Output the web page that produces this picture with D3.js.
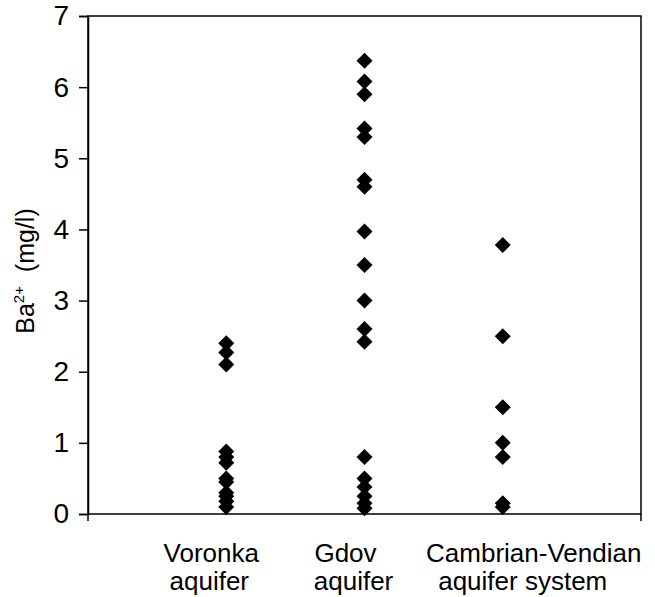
<!DOCTYPE html>
<html>
<head>
<meta charset="utf-8">
<script src="https://cdn.jsdelivr.net/npm/d3@7"></script>
<style>
  body { margin: 0; background: #fff; }
  text { font-family: "Liberation Sans", Arial, sans-serif; fill: #000; }
</style>
</head>
<body>
<svg id="chart" width="655" height="597"></svg>
<script>
// groups on the category axis (x = 1, 2, 3 on a 0..4 scale)
var groups = ["Voronka aquifer", "Gdov aquifer", "Cambrian-Vendian aquifer system"];
var groupLines = [["Voronka", "aquifer"], ["Gdov", "aquifer"], ["Cambrian-Vendian", "aquifer system"]];

// Ba2+ concentrations (mg/l)
var voronka = [2.4, 2.27, 2.1, 0.88, 0.8, 0.72, 0.5, 0.45, 0.3, 0.25, 0.18, 0.1];
var gdov = [6.37, 6.08, 5.9, 5.42, 5.3, 4.7, 4.6, 3.97, 3.5, 3.0, 2.6, 2.42, 0.8, 0.5, 0.38, 0.25, 0.15, 0.08];
var cambrian = [3.78, 2.5, 1.5, 1.0, 0.8, 0.15, 0.1];

var yTicks = [0, 1, 2, 3, 4, 5, 6, 7];

var margin = {left: 88, top: 16, right: 14, bottom: 83};
var W = 655, H = 597;
var FONT = "'Liberation Sans', Arial, sans-serif";

var svg = d3.select("#chart");

var x = d3.scaleLinear().domain([0, 4]).range([margin.left, W - margin.right]);
var y = d3.scaleLinear().domain([0, 7]).range([H - margin.bottom, margin.top]);

// frame
svg.append("rect")
  .attr("x", x(0)).attr("y", y(7))
  .attr("width", x(4) - x(0)).attr("height", y(0) - y(7))
  .attr("fill", "none").attr("stroke", "#000").attr("stroke-width", 1.5);

// y axis
var yAxis = d3.axisLeft(y).tickValues(yTicks).tickSize(9).tickPadding(10).tickFormat(d3.format("d"));
var gy = svg.append("g").attr("transform", "translate(" + x(0) + ",0)").call(yAxis);
gy.select(".domain").attr("stroke-width", 1.5);
gy.selectAll(".tick line").attr("stroke-width", 1.5);
gy.selectAll("text").style("font-size", "28px").style("font-family", FONT);

// small x ticks at ends
svg.selectAll(".xtick").data([0, 4]).enter().append("line")
  .attr("x1", function(d){ return x(d); }).attr("x2", function(d){ return x(d); })
  .attr("y1", y(0)).attr("y2", y(0) + 7)
  .attr("stroke", "#000").attr("stroke-width", 1.5);

// y label
var yl = svg.append("text")
  .attr("transform", "translate(34,271) rotate(-90)")
  .attr("text-anchor", "middle")
  .style("font-size", "25px");
yl.append("tspan").text("Ba");
yl.append("tspan").text("2+").attr("dy", -10).style("font-size", "15px");
yl.append("tspan").text("  (mg/l)").attr("dy", 10).style("white-space", "pre");

// category labels (per-line offsets as placed in the original)
var labelDx = [[-15, -17], [-19, -11], [31, 20]];
groupLines.forEach(function(lines, i) {
  lines.forEach(function(l, j) {
    svg.append("text")
      .attr("x", x(i + 1) + labelDx[i][j])
      .attr("y", y(0) + 48 + j * 28)
      .attr("text-anchor", "middle")
      .style("font-size", "26px")
      .text(l);
  });
});

// points
var diamond = d3.symbol().type(d3.symbolSquare).size(128);
var series = [voronka, gdov, cambrian];
series.forEach(function(vals, i) {
  svg.append("g").selectAll("path").data(vals).enter().append("path")
    .attr("d", diamond)
    .attr("transform", function(d){ return "translate(" + x(i + 1) + "," + y(d) + ") rotate(45)"; })
    .attr("fill", "#000");
});
</script>
</body>
</html>
